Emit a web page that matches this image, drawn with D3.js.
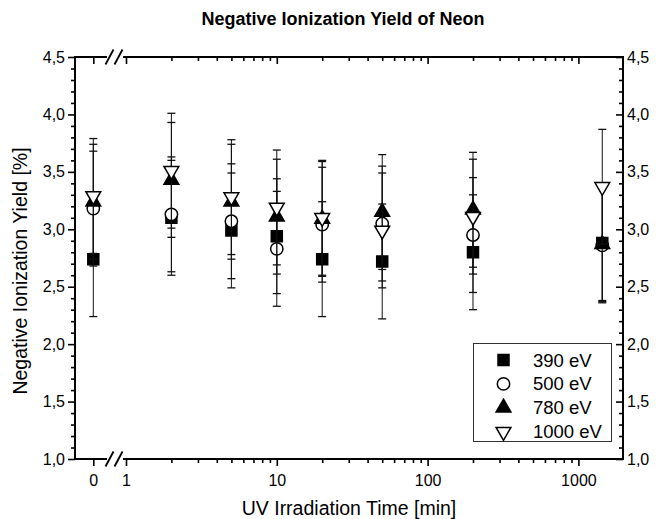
<!DOCTYPE html>
<html>
<head>
<meta charset="utf-8">
<script src="https://cdn.jsdelivr.net/npm/d3@7"></script>
<style>
  html, body { margin: 0; padding: 0; background: #fff; }
  svg { display: block; }
  text { font-family: Arial, "Liberation Sans", Helvetica, sans-serif; fill: #000; }
</style>
</head>
<body>
<svg id="chart" width="657" height="519"></svg>
<script>
// ---------------- data ----------------
const times   = [0, 2, 5, 10, 20, 50, 200, 1440];            // min
const y390    = [2.74, 3.10, 2.99, 2.94, 2.74, 2.72, 2.80, 2.88];
const y500    = [3.18, 3.13, 3.07, 2.83, 3.04, 3.05, 2.95, 2.86];
const y780    = [3.24, 3.43, 3.24, 3.11, 3.09, 3.15, 3.17, 2.87];
const y1000   = [3.29, 3.51, 3.28, 3.19, 3.10, 2.99, 3.11, 3.37];
const err390  = [0.5, 0.5, 0.5, 0.5, 0.5, 0.5, 0.5, 0.5];
const err500  = [0.5, 0.5, 0.5, 0.5, 0.5, 0.5, 0.5, 0.5];
const err780  = [0.5, 0.5, 0.5, 0.5, 0.5, 0.5, 0.5, 0.5];
const err1000 = [0.5, 0.5, 0.5, 0.5, 0.5, 0.5, 0.5, 0.5];
const seriesNames = ["390 eV", "500 eV", "780 eV", "1000 eV"];
const xMajorTicks = [1, 10, 100, 1000];
const xZeroTicks = [0];
const yMajorTicks = [1.0, 1.5, 2.0, 2.5, 3.0, 3.5, 4.0, 4.5];
const titleText = "Negative Ionization Yield of Neon";
const xTitle = "UV Irradiation Time [min]";
const yTitle = "Negative Ionization Yield [%]";

// ---------------- layout ----------------
const L = 75, R = 623, T = 57, B = 459;
const svg = d3.select("#chart");

const y = d3.scaleLinear().domain([1, 4.5]).range([B, T]);
const decade = 150.8;
const xLog = d3.scaleLog().domain([1, 2000]).range([126, 126 + decade * Math.log10(2000)]);
const xZero = d3.scaleLinear().domain([-1, 1]).range([73.3, 113.3]);
const xPos = t => t === 0 ? xZero(0) : xLog(t);

// minor ticks
const xMinor = [];
[1, 10, 100].forEach(b => { for (let k = 2; k <= 9; k++) xMinor.push(b * k); });
const yMinor = [];
for (let i = 10; i <= 45; i++) { if (i % 5 !== 0) yMinor.push(i / 10); }

const fmtY = d => d.toFixed(1).replace(".", ",");
const FONT = "Arial, 'Liberation Sans', Helvetica, sans-serif";
const TICK_FS = 16;

function styleAxis(g, fs) {
  g.attr("font-size", fs).attr("font-family", FONT);
  g.select(".domain").remove();
  g.selectAll(".tick line").attr("stroke", "#000").attr("stroke-width", 1.6);
  g.selectAll(".tick text").attr("fill", "#000");
}

// bottom axes
const gb1 = svg.append("g").attr("transform", `translate(0,${B})`)
  .call(d3.axisBottom(xLog).tickValues(xMajorTicks).tickFormat(d3.format("d")).tickSize(7).tickPadding(9));
styleAxis(gb1, TICK_FS);
const gb2 = svg.append("g").attr("transform", `translate(0,${B})`)
  .call(d3.axisBottom(xLog).tickValues(xMinor).tickFormat("").tickSize(4));
styleAxis(gb2, TICK_FS);
const gb0 = svg.append("g").attr("transform", `translate(0,${B})`)
  .call(d3.axisBottom(xZero).tickValues(xZeroTicks).tickFormat(d3.format("d")).tickSize(7).tickPadding(9));
styleAxis(gb0, TICK_FS);

// top axes (ticks inward)
const gt1 = svg.append("g").attr("transform", `translate(0,${T})`)
  .call(d3.axisTop(xLog).tickValues(xMajorTicks).tickFormat("").tickSize(-7));
styleAxis(gt1, TICK_FS);
const gt2 = svg.append("g").attr("transform", `translate(0,${T})`)
  .call(d3.axisTop(xLog).tickValues(xMinor).tickFormat("").tickSize(-4));
styleAxis(gt2, TICK_FS);
const gt0 = svg.append("g").attr("transform", `translate(0,${T})`)
  .call(d3.axisTop(xZero).tickValues(xZeroTicks).tickFormat("").tickSize(-7));
styleAxis(gt0, TICK_FS);

// left axes
const gl1 = svg.append("g").attr("transform", `translate(${L},0)`)
  .call(d3.axisLeft(y).tickValues(yMajorTicks).tickFormat(fmtY).tickSize(7).tickPadding(3));
styleAxis(gl1, TICK_FS);
const gl2 = svg.append("g").attr("transform", `translate(${L},0)`)
  .call(d3.axisLeft(y).tickValues(yMinor).tickFormat("").tickSize(4));
styleAxis(gl2, TICK_FS);

// right axes (ticks inward)
const gr1 = svg.append("g").attr("transform", `translate(${R},0)`)
  .call(d3.axisRight(y).tickValues(yMajorTicks).tickFormat(fmtY).tickSize(-7).tickPadding(4));
styleAxis(gr1, TICK_FS);
const gr2 = svg.append("g").attr("transform", `translate(${R},0)`)
  .call(d3.axisRight(y).tickValues(yMinor).tickFormat("").tickSize(-4));
styleAxis(gr2, TICK_FS);

// frame with axis breaks
const frame = svg.append("g").attr("stroke", "#000").attr("stroke-width", 2).attr("fill", "none");
const brkA = 107, brkB = 123;
frame.append("line").attr("x1", L).attr("x2", L).attr("y1", T - 1).attr("y2", B + 1);
frame.append("line").attr("x1", R).attr("x2", R).attr("y1", T - 1).attr("y2", B + 1);
[T, B].forEach(yy => {
  frame.append("line").attr("x1", L).attr("x2", brkA).attr("y1", yy).attr("y2", yy);
  frame.append("line").attr("x1", brkB).attr("x2", R).attr("y1", yy).attr("y2", yy);
  frame.append("line").attr("x1", 105.5).attr("y1", yy + 7.5).attr("x2", 113.5).attr("y2", yy - 7.5).attr("stroke-width", 1.8);
  frame.append("line").attr("x1", 114.5).attr("y1", yy + 7.5).attr("x2", 122.5).attr("y2", yy - 7.5).attr("stroke-width", 1.8);
});

// ---------------- series ----------------
const series = [
  { name: seriesNames[0], vals: y390,  errs: err390,  sym: d3.symbolSquare,   size: 121, fill: "#000", rot: 0 },
  { name: seriesNames[1], vals: y500,  errs: err500,  sym: d3.symbolCircle,   size: 120, fill: "#fff", rot: 0 },
  { name: seriesNames[2], vals: y780,  errs: err780,  sym: d3.symbolTriangle, size: 95,  fill: "#000", rot: 0 },
  { name: seriesNames[3], vals: y1000, errs: err1000, sym: d3.symbolTriangle, size: 95,  fill: "#fff", rot: 180 }
];

const plot = svg.append("g");
series.forEach(s => {
  const pts = times.map((t, i) => ({ t, v: s.vals[i], e: s.errs[i] }));
  const eg = plot.append("g").attr("stroke", "#111").attr("stroke-width", 1);
  eg.selectAll("line.v").data(pts).join("line").attr("class", "v")
    .attr("x1", d => xPos(d.t)).attr("x2", d => xPos(d.t))
    .attr("y1", d => y(d.v - d.e)).attr("y2", d => y(d.v + d.e));
  eg.selectAll("line.ct").data(pts).join("line").attr("class", "ct")
    .attr("x1", d => xPos(d.t) - 4).attr("x2", d => xPos(d.t) + 4)
    .attr("y1", d => y(d.v + d.e)).attr("y2", d => y(d.v + d.e)).attr("stroke-width", 1.3);
  eg.selectAll("line.cb").data(pts).join("line").attr("class", "cb")
    .attr("x1", d => xPos(d.t) - 4).attr("x2", d => xPos(d.t) + 4)
    .attr("y1", d => y(d.v - d.e)).attr("y2", d => y(d.v - d.e)).attr("stroke-width", 1.3);
  plot.append("g").selectAll("path").data(pts).join("path")
    .attr("d", d3.symbol().type(s.sym).size(s.size))
    .attr("transform", d => `translate(${xPos(d.t)},${y(d.v)}) rotate(${s.rot})`)
    .attr("fill", s.fill).attr("stroke", "#000").attr("stroke-width", 1.5);
});

// ---------------- legend ----------------
const lg = svg.append("g");
lg.append("rect").attr("x", 473.5).attr("y", 343.5).attr("width", 138).attr("height", 98)
  .attr("fill", "#fff").attr("stroke", "#333").attr("stroke-width", 1);
const legY = d3.scalePoint().domain(seriesNames).range([360, 431.7]);
series.forEach(s => {
  lg.append("path").attr("d", d3.symbol().type(s.sym).size(s.size))
    .attr("transform", `translate(503.5,${legY(s.name)}) rotate(${s.rot})`)
    .attr("fill", s.fill).attr("stroke", "#000").attr("stroke-width", 1.5);
  lg.append("text").attr("x", 533).attr("y", legY(s.name) + 6.5)
    .attr("font-size", 18.5).text(s.name);
});

// ---------------- titles ----------------
svg.append("text").attr("x", 343).attr("y", 25).attr("text-anchor", "middle")
  .attr("font-size", 18).attr("font-weight", "bold").text(titleText);
svg.append("text").attr("x", 349).attr("y", 515).attr("text-anchor", "middle")
  .attr("font-size", 19.5).text(xTitle);
svg.append("text").attr("transform", "translate(27,271) rotate(-90)").attr("text-anchor", "middle")
  .attr("font-size", 19.5).text(yTitle);
</script>
</body>
</html>
